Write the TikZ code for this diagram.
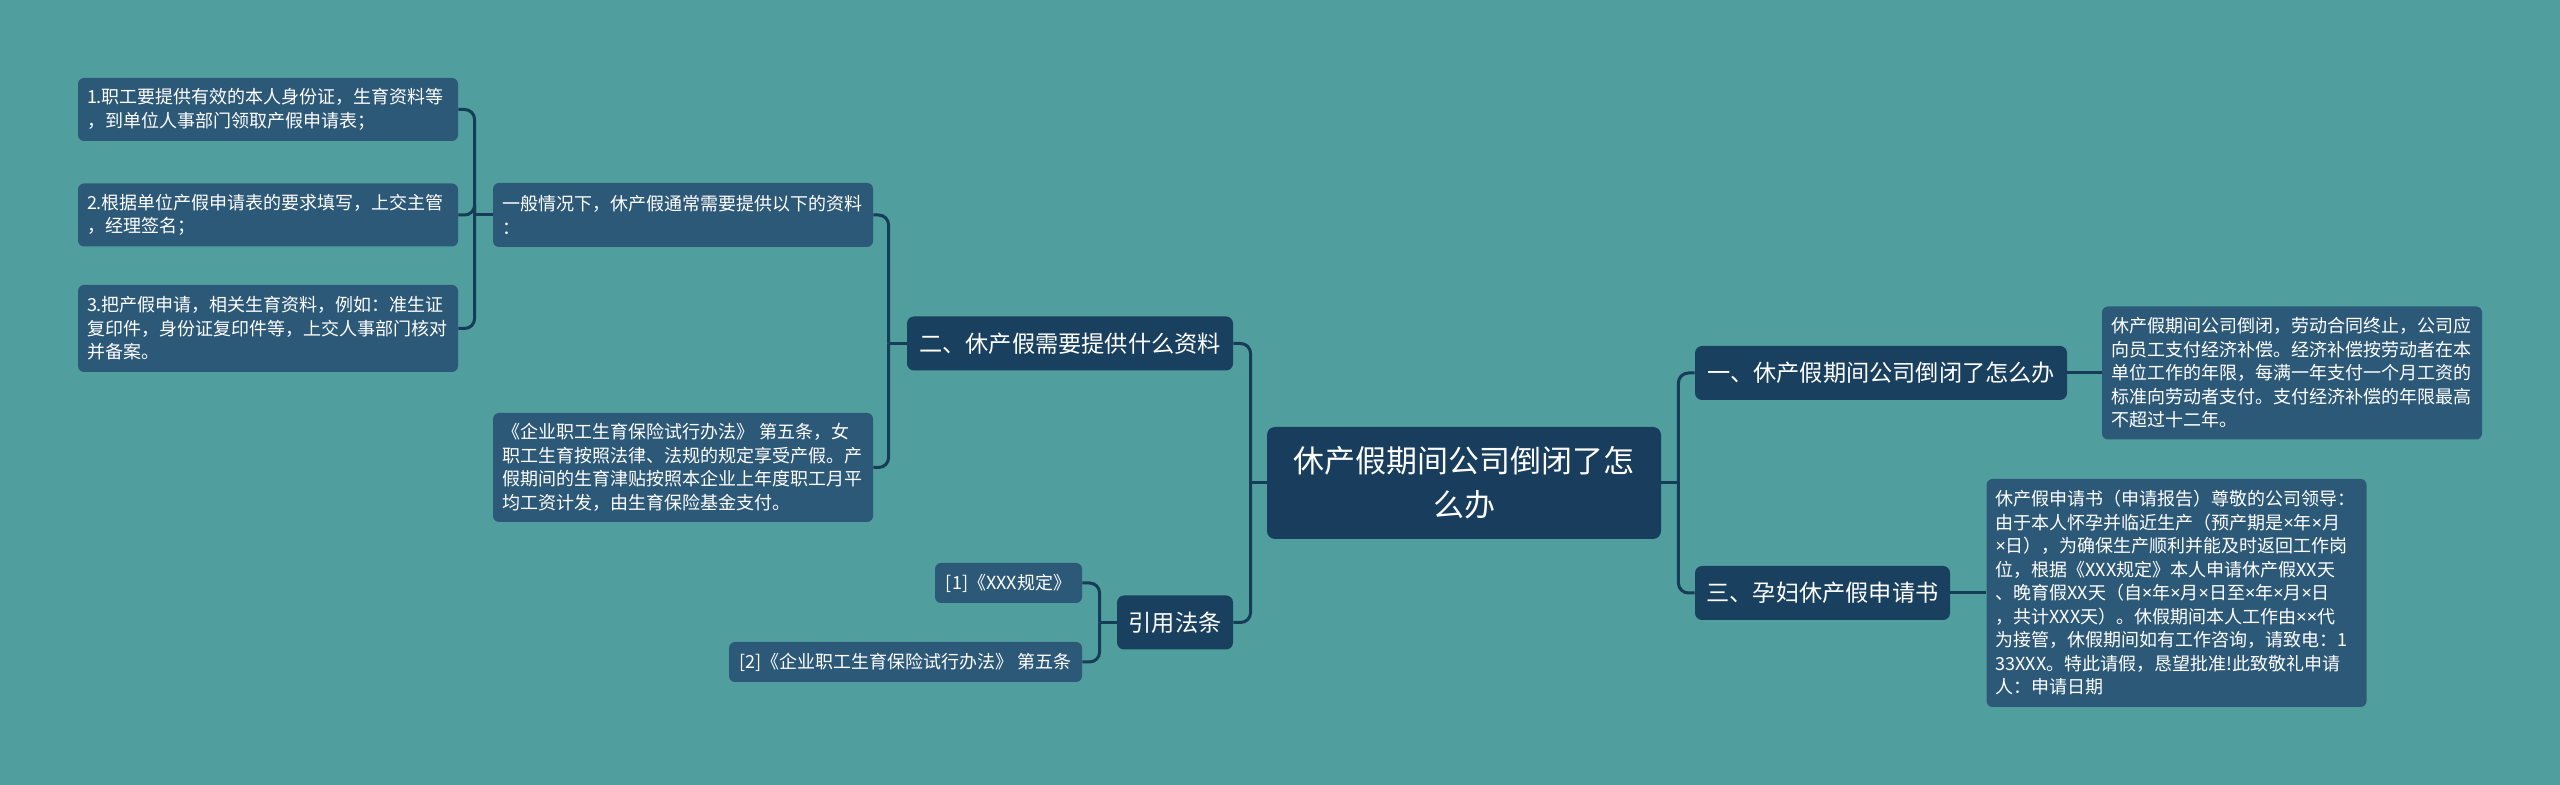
\documentclass[tikz,border=0pt]{standalone}
\usepackage{fontspec}
\setmainfont{Noto Sans CJK SC}
\newfontfamily\latinfont{Noto Sans}
\newcommand{\crosssign}{{\latinfont ×}}
\usepackage{tikz}
\usetikzlibrary{positioning, calc}
\definecolor{bgteal}{RGB}{80, 158, 158}
\definecolor{rootnavy}{RGB}{24, 61, 93}
\definecolor{topicnavy}{RGB}{26, 64, 96}
\definecolor{leafblue}{RGB}{45, 89, 120}
\definecolor{linknavy}{RGB}{22, 60, 88}
\tikzset{
    mapnode/.style={rectangle, text=white, inner sep=0pt},
    rootbox/.style={mapnode, fill=rootnavy, rounded corners=4pt, align=center, font=\fontsize{15.5pt}{22pt}\selectfont, minimum width=197pt, minimum height=56pt},
    topicbox/.style={mapnode, fill=topicnavy, rounded corners=3.5pt, font=\fontsize{11.6pt}{14pt}\selectfont, minimum height=27pt},
    leafbox/.style={mapnode, fill=leafblue, rounded corners=3pt, align=left, text width=181pt, inner xsep=4.5pt, font=\fontsize{9pt}{11.75pt}\selectfont},
    citebox/.style={mapnode, fill=leafblue, rounded corners=3pt, font=\fontsize{9pt}{11.75pt}\selectfont, minimum height=20pt},
    link/.style={draw=linknavy, line width=1.5pt, rounded corners=5pt},
}
\begin{document}
\begin{tikzpicture}[x=0.5pt, y=-0.5pt]
    % background
    \fill[bgteal] (0,0) rectangle (2560,785);

    % centre
    \node[rootbox] (root) at (1464,483) {休产假期间公司倒闭了怎\\么办};

    % left side
    \node[topicbox, minimum width=163pt] (materials) at (1070,343.5) {二、休产假需要提供什么资料};
    \node[topicbox, minimum width=58pt] (laws) at (1175,622.5) {引用法条};
    \node[leafbox, minimum height=32pt] (general) at (683,215) {一般情况下，休产假通常需要提供以下的资料\\：};
    \node[leafbox, minimum height=54.5pt] (fund) at (683,467.5) {《企业职工生育保险试行办法》 第五条，女\\职工生育按照法律、法规的规定享受产假。产\\假期间的生育津贴按照本企业上年度职工月平\\均工资计发，由生育保险基金支付。};
    \node[leafbox, minimum height=31.5pt] (stepone) at (268,109.5) {1.职工要提供有效的本人身份证，生育资料等\\，到单位人事部门领取产假申请表；};
    \node[leafbox, minimum height=31.5pt] (steptwo) at (268,215) {2.根据单位产假申请表的要求填写，上交主管\\，经理签名；};
    \node[leafbox, minimum height=43.5pt] (stepthree) at (268,328.5) {3.把产假申请，相关生育资料，例如：准生证\\复印件，身份证复印件等，上交人事部门核对\\并备案。};
    \node[citebox, minimum width=73.5pt] (citeone) at (1008.5,583) {[1]《XXX规定》};
    \node[citebox, minimum width=176.5pt] (citetwo) at (905.5,662) {[2]《企业职工生育保险试行办法》 第五条};

    % right side
    \node[topicbox, minimum width=186pt] (closure) at (1881,373) {一、休产假期间公司倒闭了怎么办};
    \node[topicbox, minimum width=127.5pt] (request) at (1822.5,593) {三、孕妇休产假申请书};
    \node[leafbox, minimum height=66.5pt] (closuretext) at (2292,373) {休产假期间公司倒闭，劳动合同终止，公司应\\向员工支付经济补偿。经济补偿按劳动者在本\\单位工作的年限，每满一年支付一个月工资的\\标准向劳动者支付。支付经济补偿的年限最高\\不超过十二年。};
    \node[leafbox, minimum height=114pt] (requesttext) at (2176.5,593) {休产假申请书（申请报告）尊敬的公司领导：\\由于本人怀孕并临近生产（预产期是\crosssign 年\crosssign 月\\\crosssign 日），为确保生产顺利并能及时返回工作岗\\位，根据《XXX规定》本人申请休产假XX天\\、晚育假XX天（自\crosssign 年\crosssign 月\crosssign 日至\crosssign 年\crosssign 月\crosssign 日\\，共计XXX天）。休假期间本人工作由\crosssign\crosssign 代\\为接管，休假期间如有工作咨询，请致电：1\\33XXX。特此请假，恳望批准!此致敬礼申请\\人：申请日期};

    % branch points
    \coordinate (rootL) at ([xshift=-8pt]root.west);
    \coordinate (rootR) at ([xshift=8.5pt]root.east);
    \coordinate (materialsL) at ([xshift=-9pt]materials.west);
    \coordinate (generalL) at ([xshift=-9pt]general.west);
    \coordinate (lawsL) at ([xshift=-8.5pt]laws.west);

    % connectors
    \draw[link] (root.west) -- (rootL);
    \draw[link] (rootL) |- (materials.east);
    \draw[link] (rootL) |- (laws.east);
    \draw[link] (materials.west) -- (materialsL);
    \draw[link] (materialsL) |- (general.east);
    \draw[link] (materialsL) |- (fund.east);
    \draw[link] (general.west) -- (generalL);
    \draw[link] (generalL) |- (stepone.east);
    \draw[link] (generalL) |- (steptwo.east);
    \draw[link] (generalL) |- (stepthree.east);
    \draw[link] (laws.west) -- (lawsL);
    \draw[link] (lawsL) |- (citeone.east);
    \draw[link] (lawsL) |- (citetwo.east);
    \draw[link] (root.east) -- (rootR);
    \draw[link] (rootR) |- (closure.west);
    \draw[link] (rootR) |- (request.west);
    \draw[link] (closure.east) -- (closuretext.west);
    \draw[link] (request.east) -- (requesttext.west);
\end{tikzpicture}
\end{document}
